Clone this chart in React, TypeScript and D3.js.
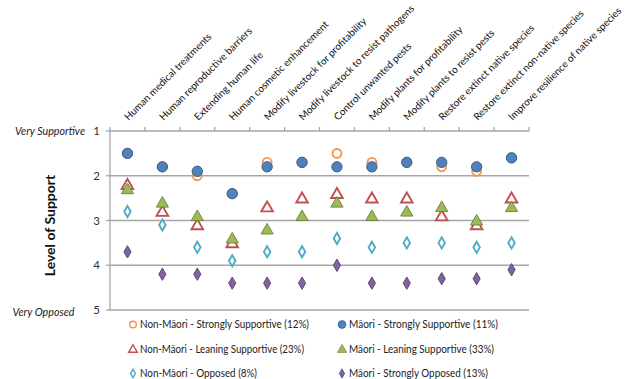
import React from "react";
import * as d3 from "d3";

// Survey application areas (left to right along the top axis)
const categories = [
  "Human medical treatments",
  "Human reproductive barriers",
  "Extending human life",
  "Human cosmetic enhancement",
  "Modify livestock for profitability",
  "Modify livestock to resist pathogens",
  "Control unwanted pests",
  "Modify plants for profitability",
  "Modify plants to resist pests",
  "Restore extinct native species",
  "Restore extinct non-native species",
  "Improve resilience of native species",
];

// Mean level of support per cluster (1 = very supportive, 5 = very opposed)
const nonMaoriStronglySupportive = [1.5, 1.8, 2.0, 2.4, 1.7, 1.7, 1.5, 1.7, 1.7, 1.8, 1.9, 1.6];
const maoriStronglySupportive = [1.5, 1.8, 1.9, 2.4, 1.8, 1.7, 1.8, 1.8, 1.7, 1.7, 1.8, 1.6];
const nonMaoriLeaningSupportive = [2.2, 2.8, 3.1, 3.5, 2.7, 2.5, 2.4, 2.5, 2.5, 2.9, 3.1, 2.5];
const maoriLeaningSupportive = [2.3, 2.6, 2.9, 3.4, 3.2, 2.9, 2.6, 2.9, 2.8, 2.7, 3.0, 2.7];
const nonMaoriOpposed = [2.8, 3.1, 3.6, 3.9, 3.7, 3.7, 3.4, 3.6, 3.5, 3.5, 3.6, 3.5];
const maoriStronglyOpposed = [3.7, 4.2, 4.2, 4.4, 4.4, 4.4, 4.0, 4.4, 4.4, 4.3, 4.3, 4.1];

const yTicks = [1, 2, 3, 4, 5];

type Marker = "circle" | "triangle" | "diamond";
interface Series {
  name: string;
  values: number[];
  marker: Marker;
  filled: boolean;
  fill: string;
  stroke: string;
}

const series: Series[] = [
  { name: "Non-Māori - Strongly Supportive  (12%)", values: nonMaoriStronglySupportive, marker: "circle", filled: false, fill: "none", stroke: "#F79646" },
  { name: "Māori - Strongly Supportive  (11%)", values: maoriStronglySupportive, marker: "circle", filled: true, fill: "#4F81BD", stroke: "#385D8A" },
  { name: "Non-Māori - Leaning Supportive (23%)", values: nonMaoriLeaningSupportive, marker: "triangle", filled: false, fill: "none", stroke: "#C0504D" },
  { name: "Māori - Leaning Supportive (33%)", values: maoriLeaningSupportive, marker: "triangle", filled: true, fill: "#9BBB59", stroke: "#71893F" },
  { name: "Non-Māori - Opposed (8%)", values: nonMaoriOpposed, marker: "diamond", filled: false, fill: "none", stroke: "#4BACC6" },
  { name: "Māori - Strongly Opposed (13%)", values: maoriStronglyOpposed, marker: "diamond", filled: true, fill: "#8064A2", stroke: "#5C4776" },
];

// Rendered widths of the legend labels (px), so the narrow face lines up in two columns
const legendTextWidths = [169, 149, 164, 145, 117, 139];

const W = 631;
const H = 379;
const plot = { left: 110, right: 529, top: 131, bottom: 310 };
const FONT = "Lato, 'Open Sans', sans-serif";
const GRID = "#A6A6A6";

const x = d3.scaleBand<string>().domain(categories).range([plot.left, plot.right]);
const y = d3.scaleLinear().domain([1, 5]).range([plot.top, plot.bottom]);

function markerPath(m: Marker, big: boolean): string {
  if (m === "circle") {
    return d3.symbol(d3.symbolCircle, big ? 84 : 62)()!;
  }
  if (m === "triangle") {
    return d3.symbol(d3.symbolTriangle, big ? 64 : 58)()!;
  }
  return d3.symbol(d3.symbolDiamond, big ? 44 : 36)()!;
}

function MarkerShape({ s, cx, cy, legend }: { s: Series; cx: number; cy: number; legend?: boolean }) {
  const scale = legend ? 0.75 : 1;
  const d = markerPath(s.marker, s.filled);
  const dy = s.marker === "triangle" ? 1 : 0;
  return (
    <path
      d={d}
      transform={`translate(${cx},${cy + dy * scale}) scale(${scale})`}
      fill={s.filled ? s.fill : "#FFFFFF"}
      fillOpacity={s.filled ? 1 : 0}
      stroke={s.stroke}
      strokeWidth={s.filled ? 1 : 1.9}
    />
  );
}

export default function App() {
  const ticksX = d3.range(categories.length + 1).map((i) => plot.left + i * x.step());
  const legendRows = [324.5, 349, 373.5];
  const legendCols = [133, 342];

  return (
    <svg width={W} height={H} style={{ position: "absolute", left: 0, top: 0 }} fontFamily={FONT}>
      <rect width={W} height={H} fill="#FFFFFF" />

      {/* horizontal gridlines */}
      {yTicks.map((t) => (
        <line key={t} x1={plot.left} x2={plot.right} y1={y(t)} y2={y(t)} stroke={GRID} strokeWidth={1.3} />
      ))}
      {/* left axis */}
      <line x1={plot.left} x2={plot.left} y1={plot.top} y2={plot.bottom} stroke={GRID} strokeWidth={1.3} />
      {yTicks.map((t) => (
        <line key={"lt" + t} x1={plot.left - 4} x2={plot.left} y1={y(t)} y2={y(t)} stroke={GRID} strokeWidth={1.3} />
      ))}
      {/* top category ticks */}
      {ticksX.map((tx, i) => (
        <line key={"tt" + i} x1={tx} x2={tx} y1={plot.top - 4} y2={plot.top} stroke={GRID} strokeWidth={1.3} />
      ))}

      {/* y tick labels */}
      {yTicks.map((t) => (
        <text key={"yl" + t} x={plot.left - 10} y={y(t)} dy="0.35em" textAnchor="end" fontSize={11.5} fill="#333">
          {t}
        </text>
      ))}
      <text x={15} y={y(1)} dy="0.35em" fontSize={11.5} fontStyle="italic" fill="#222" textLength={70} lengthAdjust="spacingAndGlyphs">
        Very Supportive
      </text>
      <text x={12.5} y={y(5)} dy="0.5em" fontSize={11.5} fontStyle="italic" fill="#222" textLength={62} lengthAdjust="spacingAndGlyphs">
        Very Opposed
      </text>
      <text
        transform={`translate(55,${(plot.top + plot.bottom) / 2 + 5}) rotate(-90)`}
        textAnchor="middle"
        fontSize={14}
        fontWeight="bold"
        fill="#111"
      >
        Level of Support
      </text>

      {/* category labels, slanted */}
      {categories.map((c) => {
        const cx = x(c)! + x.bandwidth() / 2;
        return (
          <text
            key={c}
            transform={`translate(${cx + 1},${plot.top - 10}) rotate(-45)`}
            fontSize={10}
            fill="#111"
          >
            {c}
          </text>
        );
      })}

      {/* data markers */}
      {series.map((s) => (
        <g key={s.name}>
          {s.values.map((v, i) => (
            <MarkerShape key={i} s={s} cx={x(categories[i])! + x.bandwidth() / 2} cy={y(v)} />
          ))}
        </g>
      ))}

      {/* legend */}
      {series.map((s, i) => {
        const lx = legendCols[i % 2];
        const ly = legendRows[Math.floor(i / 2)];
        return (
          <g key={"lg" + i}>
            <MarkerShape s={s} cx={lx} cy={ly} legend />
            <text
              x={lx + 7}
              y={ly}
              dy="0.35em"
              fontSize={11.2}
              fill="#222"
              textLength={legendTextWidths[i]}
              lengthAdjust="spacingAndGlyphs"
            >
              {s.name}
            </text>
          </g>
        );
      })}
    </svg>
  );
}
